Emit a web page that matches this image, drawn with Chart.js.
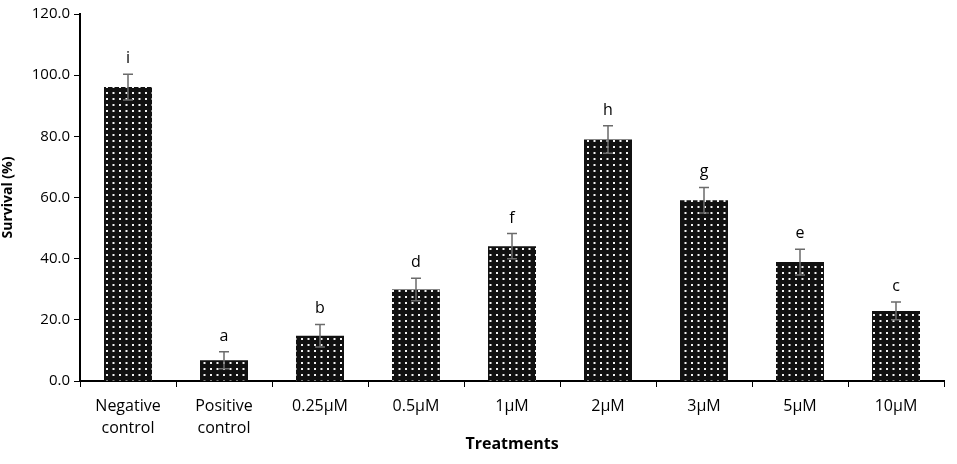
<!DOCTYPE html>
<html>
<head>
<meta charset="utf-8">
<script src="https://cdn.jsdelivr.net/npm/chart.js@4"></script>
<style>
  html, body { margin: 0; padding: 0; background: #fff; }
  #wrap { width: 957px; height: 464px; }
</style>
</head>
<body>
<div id="wrap"><canvas id="chart" width="957" height="464"></canvas></div>
<script>
// survival data
const treatments = [["Negative", "control"], ["Positive", "control"], "0.25µM", "0.5µM", "1µM", "2µM", "3µM", "5µM", "10µM"];
const survival = [96.1, 6.8, 14.8, 29.9, 44.1, 79.0, 59.1, 38.9, 22.9];
const errors = [4.2, 2.8, 3.7, 3.7, 4.1, 4.5, 4.2, 4.2, 2.9];
const letters = ["i", "a", "b", "d", "f", "h", "g", "e", "c"];
const yTicks = [0, 20, 40, 60, 80, 100, 120];

const FONT = "'Open Sans', 'Liberation Sans', sans-serif";

// black fill with small white dots (about 6.5px apart)
function dotPattern() {
  const c = document.createElement('canvas');
  c.width = 13; c.height = 6;
  const g = c.getContext('2d');
  g.fillStyle = '#111';
  g.fillRect(0, 0, 13, 6);
  g.fillStyle = '#f4f4f4';
  g.fillRect(2, 2, 2, 2);
  g.fillRect(8.5, 2, 2, 2);
  return g.createPattern(c, 'repeat');
}

const errorBars = {
  id: 'errorBars',
  afterDatasetsDraw(chart) {
    const ctx = chart.ctx;
    const y = chart.scales.y;
    const meta = chart.getDatasetMeta(0);
    ctx.save();
    meta.data.forEach((bar, i) => {
      const x = bar.x;
      const top = y.getPixelForValue(survival[i] + errors[i]);
      const bot = y.getPixelForValue(survival[i] - errors[i]);
      ctx.strokeStyle = '#6b6b6b';
      ctx.lineWidth = 1.5;
      ctx.beginPath();
      ctx.moveTo(x, top); ctx.lineTo(x, bot);
      ctx.moveTo(x - 5, top); ctx.lineTo(x + 5, top);
      ctx.moveTo(x - 5, bot); ctx.lineTo(x + 5, bot);
      ctx.stroke();
      ctx.fillStyle = '#000';
      ctx.font = '16px ' + FONT;
      ctx.textAlign = 'center';
      ctx.textBaseline = 'alphabetic';
      ctx.fillText(letters[i], x, top - 11);
    });
    ctx.restore();
  }
};

new Chart(document.getElementById('chart'), {
  type: 'bar',
  data: {
    labels: treatments,
    datasets: [{
      data: survival,
      backgroundColor: dotPattern(),
      borderWidth: 0,
      categoryPercentage: 1,
      barPercentage: 0.5
    }]
  },
  options: {
    responsive: false,
    animation: false,
    devicePixelRatio: 1,
    layout: { padding: { left: 0, right: 13, top: 14, bottom: 0 } },
    plugins: { legend: { display: false }, tooltip: { enabled: false } },
    scales: {
      x: {
        grid: { display: true, offset: true, drawOnChartArea: false, color: '#000', tickLength: 6, tickColor: '#000' },
        border: { display: true, color: '#000', width: 2 },
        ticks: { color: '#000', font: { family: FONT, size: 16, lineHeight: 1.4 }, maxRotation: 0, padding: 8 },
        title: { display: true, text: 'Treatments', color: '#000', font: { family: FONT, size: 16, weight: 'bold' }, padding: { top: 4, bottom: 10 } },
        afterFit(s) { s.height = 83; }
      },
      y: {
        min: 0, max: 120,
        afterBuildTicks(s) { s.ticks = yTicks.map(v => ({ value: v })); },
        grid: { display: true, drawOnChartArea: false, color: '#000', tickLength: 6, tickColor: '#000' },
        border: { display: true, color: '#000', width: 2 },
        ticks: { color: '#000', font: { family: FONT, size: 15 }, padding: 4, callback: v => v.toFixed(1) },
        title: { display: true, text: 'Survival (%)', color: '#000', font: { family: FONT, size: 14, weight: 'bold' }, padding: 0 },
        afterFit(s) { s.width = 80; }
      }
    }
  },
  plugins: [errorBars]
});
</script>
</body>
</html>
